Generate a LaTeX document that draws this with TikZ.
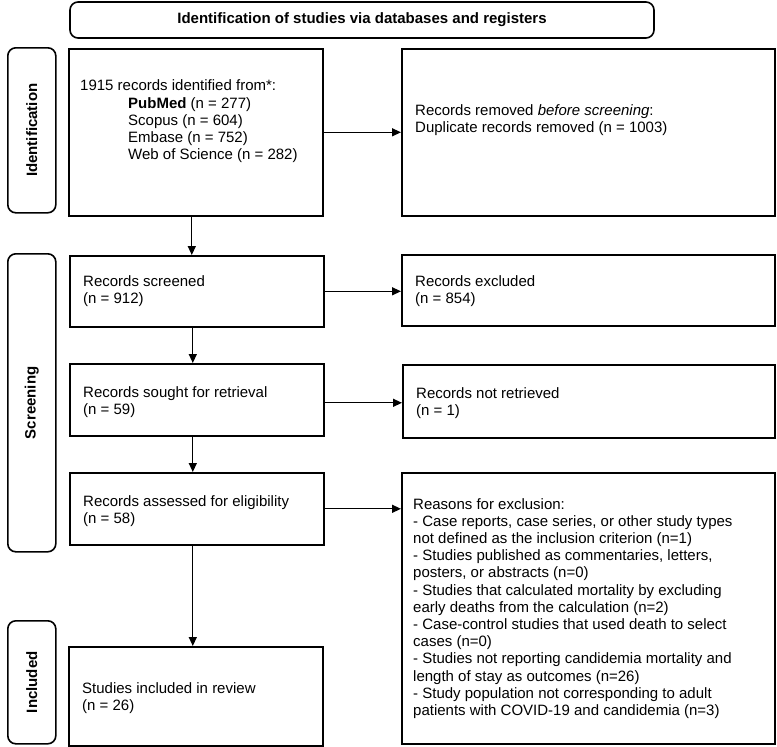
\documentclass[tikz,border=0pt]{standalone}
\usepackage{fontspec}
\setmainfont{Liberation Sans}
\usetikzlibrary{arrows.meta}
\tikzset{
  box/.style={draw, line width=1.6pt, anchor=north west, inner sep=0pt},
  side/.style={draw, line width=1.6pt, rounded corners=8pt, anchor=north west, inner sep=0pt},
  txt/.style={anchor=west, align=left, inner sep=0pt, font=\fontsize{15}{17.2}\selectfont},
  sidetxt/.style={rotate=90, inner sep=0pt, font=\fontsize{15}{17.2}\selectfont\bfseries},
  arr/.style={line width=1.3pt, -{Triangle[length=9pt,width=8pt]}}
}
\begin{document}
\begin{tikzpicture}[x=1pt,y=-1pt]
\useasboundingbox (0,0) rectangle (777,747);
% header
\node[draw, line width=1.6pt, rounded corners=8pt, minimum width=584pt, minimum height=36pt, inner sep=0pt,
      font=\fontsize{15}{17.2}\selectfont\bfseries] (head) at (362,20) {Identification of studies via databases and registers};
% side bars
\node[side, minimum width=48pt, minimum height=165pt] (s1) at (7,47) {};
\node[side, minimum width=48pt, minimum height=298pt] (s2) at (7,253) {};
\node[side, minimum width=48pt, minimum height=123pt] (s3) at (7,620) {};
\node[sidetxt] (s1t) at (s1.center) {Identification};
\node[sidetxt] (s2t) at (s2.center) {Screening};
\node[sidetxt] (s3t) at (s3.center) {Included};
% boxes
\node[box, minimum width=254pt, minimum height=167pt] (b1) at (68,48) {};
\node[box, minimum width=373pt, minimum height=167pt] (b2) at (401,48) {};
\node[box, minimum width=254pt, minimum height=71pt] (b3) at (69,255) {};
\node[box, minimum width=373pt, minimum height=71pt] (b4) at (401,254) {};
\node[box, minimum width=254pt, minimum height=72pt] (b5) at (69,363) {};
\node[box, minimum width=372pt, minimum height=73pt] (b6) at (402,364) {};
\node[box, minimum width=254pt, minimum height=72pt] (b7) at (69,472) {};
\node[box, minimum width=373pt, minimum height=271pt] (b8) at (401,472) {};
\node[box, minimum width=254pt, minimum height=99pt] (b9) at (68,646) {};
% texts
\node[txt] (t1) at (80,121.5) {1915 records identified from*:\\
\hspace*{48pt}\textbf{PubMed} (n = 277)\\
\hspace*{48pt}Scopus (n = 604)\\
\hspace*{48pt}Embase (n = 752)\\
\hspace*{48pt}Web of Science (n = 282)};
\node[txt] (t2) at (415,120.5) {Records removed \textit{before screening}:\\Duplicate records removed (n = 1003)};
\node[txt] (t3) at (83,291.5) {Records screened\\(n = 912)};
\node[txt] (t4) at (415,291) {Records excluded\\(n = 854)};
\node[txt] (t5) at (83,402) {Records sought for retrieval\\(n = 59)};
\node[txt] (t6) at (416,403) {Records not retrieved\\(n = 1)};
\node[txt] (t7) at (83,511) {Records assessed for eligibility\\(n = 58)};
\node[txt] (t8) at (413,608.5) {Reasons for exclusion:\\
- Case reports, case series, or other study types\\
not defined as the inclusion criterion (n=1)\\
- Studies published as commentaries, letters,\\
posters, or abstracts (n=0)\\
- Studies that calculated mortality by excluding\\
early deaths from the calculation (n=2)\\
- Case-control studies that used death to select\\
cases (n=0)\\
- Studies not reporting candidemia mortality and\\
length of stay as outcomes (n=26)\\
- Study population not corresponding to adult\\
patients with COVID-19 and candidemia (n=3)};
\node[txt] (t9) at (82,698) {Studies included in review\\(n = 26)};
% arrows
\draw[arr] (b1.east) -- (b1.east -| b2.west);
\draw[arr] ([xshift=-4pt]b1.south) -- ([xshift=-4pt]b1.south |- b3.north);
\draw[arr] (b3.east) -- (b3.east -| b4.west);
\draw[arr] ([xshift=-4pt]b3.south) -- ([xshift=-4pt]b3.south |- b5.north);
\draw[arr] ([yshift=-3pt]b5.east) -- ([yshift=-3pt]b5.east -| b6.west);
\draw[arr] ([xshift=-4pt]b5.south) -- ([xshift=-4pt]b5.south |- b7.north);
\draw[arr] (b7.east) -- (b7.east -| b8.west);
\draw[arr] ([xshift=-4pt]b7.south) -- ([xshift=-4pt]b7.south |- b9.north);
\end{tikzpicture}
\end{document}
